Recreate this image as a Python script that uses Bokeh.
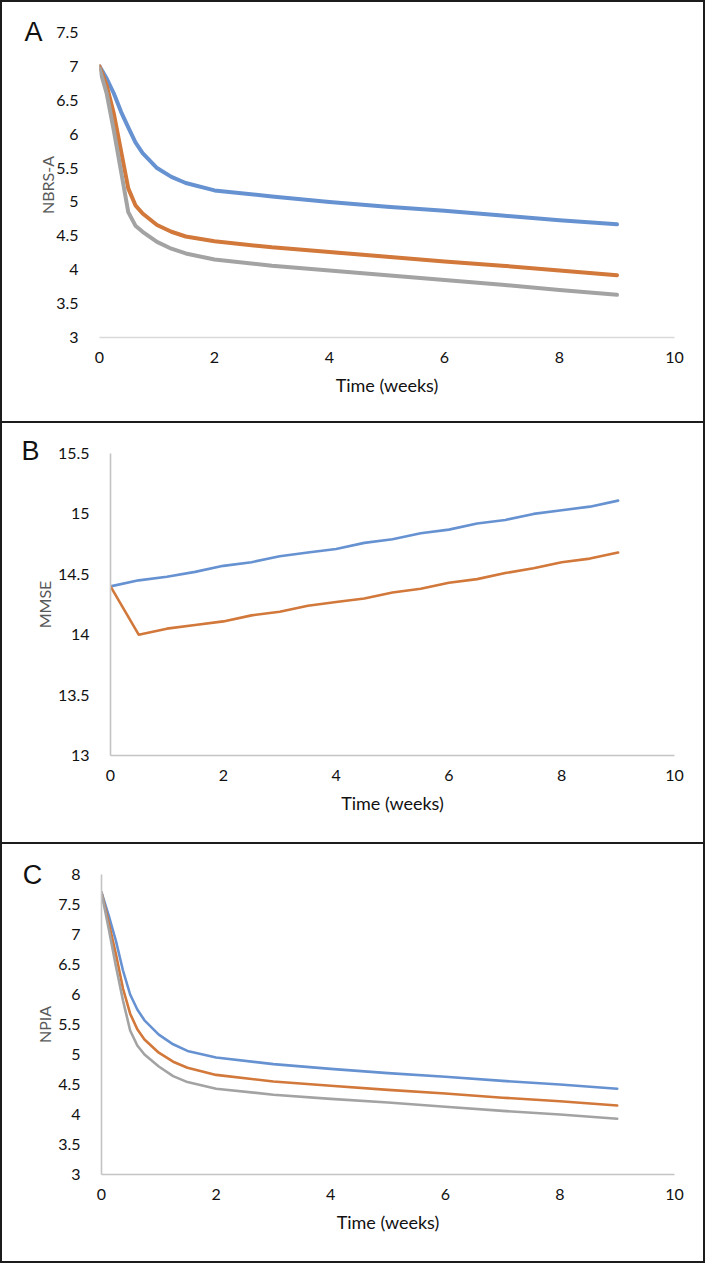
from bokeh.plotting import figure
from bokeh.layouts import column, row
from bokeh.models import Range1d, FixedTicker, NumeralTickFormatter, Label
from bokeh.embed import file_html
from bokeh.resources import INLINE

# ---------------- data ----------------
x_ticks = [0, 2, 4, 6, 8, 10]

# Panel A: NBRS-A
weeks_a = [0, 0.125, 0.25, 0.375, 0.5, 0.625, 0.75, 1, 1.25, 1.5, 2, 3, 4, 5, 6, 7, 8, 9]
nbrs_blue = [7.0, 6.82, 6.6, 6.33, 6.1, 5.88, 5.72, 5.5, 5.37, 5.28, 5.17, 5.08, 5.0, 4.93, 4.87, 4.8, 4.73, 4.67]
nbrs_orange = [7.0, 6.72, 6.3, 5.75, 5.2, 4.95, 4.83, 4.66, 4.56, 4.49, 4.42, 4.33, 4.26, 4.19, 4.12, 4.06, 3.99, 3.92]
nbrs_gray = [6.97, 6.6, 6.05, 5.45, 4.85, 4.65, 4.56, 4.41, 4.31, 4.24, 4.15, 4.06, 3.99, 3.92, 3.85, 3.78, 3.7, 3.63]
nbrs_ticks = [3, 3.5, 4, 4.5, 5, 5.5, 6, 6.5, 7, 7.5]

# Panel B: MMSE
weeks_b = [0, 0.5, 1, 1.5, 2, 2.5, 3, 3.5, 4, 4.5, 5, 5.5, 6, 6.5, 7, 7.5, 8, 8.5, 9]
mmse_blue = [14.4, 14.45, 14.48, 14.52, 14.57, 14.6, 14.65, 14.68, 14.71, 14.76, 14.79,
             14.84, 14.87, 14.92, 14.95, 15.0, 15.03, 15.06, 15.11]
mmse_orange = [14.4, 14.0, 14.05, 14.08, 14.11, 14.16, 14.19, 14.24, 14.27, 14.3, 14.35,
               14.38, 14.43, 14.46, 14.51, 14.55, 14.6, 14.63, 14.68]
mmse_ticks = [13, 13.5, 14, 14.5, 15, 15.5]

# Panel C: NPIA
weeks_c = [0, 0.125, 0.25, 0.375, 0.5, 0.625, 0.75, 1, 1.25, 1.5, 2, 3, 4, 5, 6, 7, 8, 9]
npia_blue = [7.7, 7.32, 6.9, 6.4, 6.0, 5.75, 5.57, 5.33, 5.17, 5.06, 4.95, 4.84, 4.76, 4.69, 4.63, 4.56, 4.5, 4.43]
npia_orange = [7.7, 7.2, 6.68, 6.1, 5.68, 5.42, 5.25, 5.03, 4.88, 4.78, 4.66, 4.55, 4.48, 4.41, 4.35, 4.28, 4.22, 4.15]
npia_gray = [7.7, 7.1, 6.48, 5.9, 5.4, 5.15, 5.0, 4.8, 4.64, 4.54, 4.43, 4.33, 4.26, 4.2, 4.13, 4.06, 4.0, 3.93]
npia_ticks = [3, 3.5, 4, 4.5, 5, 5.5, 6, 6.5, 7, 7.5, 8]

BLUE = "#6792d1"
ORANGE = "#d1783a"
GRAY = "#a3a3a3"
TICK_FONT = "Lato"


def panel(letter, ylabel, yr, yticks, borders, size, frame, series, lw,
          show_yline, axis_color, letter_pos, ytitle_standoff):
    w, h = size
    left, right, top, bottom = frame
    p = figure(width=w, height=h, x_range=Range1d(0, 10), y_range=Range1d(*yr),
               output_backend="svg", toolbar_location=None,
               min_border_left=left, min_border_right=right,
               min_border_top=top, min_border_bottom=bottom,
               styles=borders)
    p.title.visible = False
    p.outline_line_color = None
    p.xgrid.visible = False
    p.ygrid.visible = False
    p.background_fill_color = "white"
    p.border_fill_color = "white"

    for xs, ys, c in series:
        p.line(xs, ys, line_color=c, line_width=lw, line_join="round", line_cap="round")

    xa = p.xaxis[0]
    xa.ticker = FixedTicker(ticks=x_ticks)
    xa.major_tick_line_color = None
    xa.minor_tick_line_color = None
    xa.axis_line_color = axis_color
    xa.axis_line_width = 1.6
    xa.major_label_text_font = TICK_FONT
    xa.major_label_text_font_size = "16px"
    xa.major_label_text_color = "#111111"
    xa.major_label_standoff = 8
    xa.axis_label = "Time (weeks)"
    xa.axis_label_text_font = TICK_FONT
    xa.axis_label_text_font_size = "18px"
    xa.axis_label_text_font_style = "normal"
    xa.axis_label_text_color = "#111111"
    xa.axis_label_standoff = 8

    ya = p.yaxis[0]
    ya.ticker = FixedTicker(ticks=yticks)
    ya.formatter = NumeralTickFormatter(format="0.[0]")
    ya.major_tick_line_color = None
    ya.minor_tick_line_color = None
    ya.axis_line_color = axis_color if show_yline else None
    ya.axis_line_width = 1.6
    ya.major_label_text_font = TICK_FONT
    ya.major_label_text_font_size = "16px"
    ya.major_label_text_color = "#111111"
    ya.major_label_standoff = 15
    ya.axis_label = ylabel
    ya.axis_label_text_font = TICK_FONT
    ya.axis_label_text_font_size = "16px"
    ya.axis_label_text_font_style = "normal"
    ya.axis_label_text_color = "#595959"
    ya.axis_label_standoff = ytitle_standoff

    lx, ly = letter_pos
    p.add_layout(Label(x=lx, y=ly, x_units="screen", y_units="screen", text=letter,
                       text_font="Liberation Sans", text_font_size="27px",
                       text_color="#111111", text_align="center", text_baseline="middle"),
                 "above")
    return p


b_full = {"border": "2px solid #1c1c1c"}
b_notop = {"border": "2px solid #1c1c1c", "border-top": "none"}

pa = panel("A", "NBRS-A", (3, 7.5), nbrs_ticks, b_full, (705, 423), (97, 33, 29, 88),
           [(weeks_a, nbrs_blue, BLUE), (weeks_a, nbrs_orange, ORANGE), (weeks_a, nbrs_gray, GRAY)],
           4, False, "#d9d9d9", (-66, 1), -4)
pb = panel("B", "MMSE", (13, 15.5), mmse_ticks, b_notop, (705, 421), (108, 33, 29, 89),
           [(weeks_b, mmse_blue, BLUE), (weeks_b, mmse_orange, ORANGE)],
           2.6, True, "#c4c4c4", (-80, 3), 1)
pc = panel("C", "NPIA", (3, 8), npia_ticks, b_notop, (705, 419), (99, 33, 28, 89),
           [(weeks_c, npia_blue, BLUE), (weeks_c, npia_orange, ORANGE), (weeks_c, npia_gray, GRAY)],
           2.6, True, "#c4c4c4", (-69, 0), 1)

layout = column(row(pa), row(pb), row(pc), spacing=0)
open("out.html", "w").write(file_html(layout, INLINE))
